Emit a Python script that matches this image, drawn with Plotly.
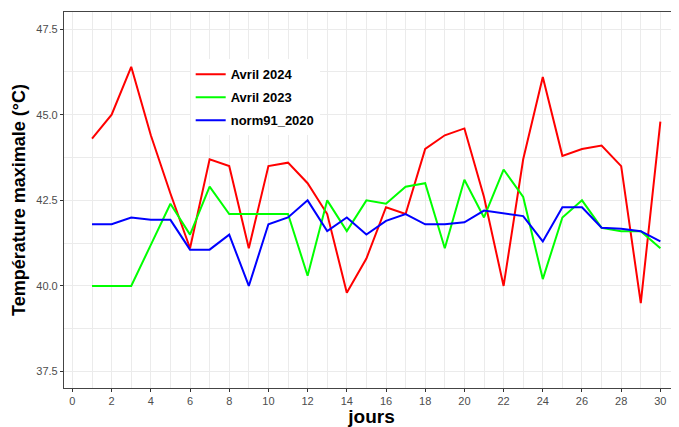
import plotly.graph_objects as go

jours = list(range(1, 31))
avril_2024 = [44.3, 45.0, 46.4, 44.4, 42.7, 41.1, 43.7, 43.5, 41.1, 43.5,
              43.6, 43.0, 42.1, 39.8, 40.8, 42.3, 42.1, 44.0, 44.4, 44.6,
              42.6, 40.0, 43.7, 46.1, 43.8, 44.0, 44.1, 43.5, 39.5, 44.8]
avril_2023 = [40.0, 40.0, 40.0, 41.2, 42.4, 41.5, 42.9, 42.1, 42.1, 42.1,
              42.1, 40.3, 42.5, 41.6, 42.5, 42.4, 42.9, 43.0, 41.1, 43.1,
              42.0, 43.4, 42.6, 40.2, 42.0, 42.5, 41.7, 41.6, 41.6, 41.1]
norm91_2020 = [41.8, 41.8, 42.0, 41.93, 41.93, 41.06, 41.06, 41.5, 40.0, 41.8,
               42.0, 42.5, 41.6, 42.0, 41.5, 41.9, 42.1, 41.8, 41.8, 41.86,
               42.2, 42.13, 42.04, 41.3, 42.3, 42.3, 41.7, 41.67, 41.6, 41.3]

series = [("Avril 2024", avril_2024, "#ff0000"),
          ("Avril 2023", avril_2023, "#00ff00"),
          ("norm91_2020", norm91_2020, "#0000ff")]

x_ticks = list(range(0, 31, 2))
y_ticks = [37.5, 40.0, 42.5, 45.0, 47.5]

fig = go.Figure()
for name, vals, col in series:
    fig.add_trace(go.Scatter(x=jours, y=vals, mode="lines", name=name, legendgroup=name,
                             line=dict(color=col, width=2)))

grid = "#ebebeb"
# the page body has an 8px margin, so the figure is 8px smaller and margins shifted
fig.update_layout(
    width=671, height=419,
    margin=dict(l=56, r=0, t=4, b=39, autoexpand=False),
    paper_bgcolor="white", plot_bgcolor="white",
    font=dict(family="Liberation Sans, Arial, sans-serif", color="#4d4d4d"),
    legend=dict(x=0.206, y=0.874, xanchor="left", yanchor="top",
                bgcolor="white", borderwidth=0, traceorder="grouped",
                font=dict(size=13, color="black", family="Liberation Sans, Arial, sans-serif", weight="bold"),
                itemwidth=30, tracegroupgap=3),
    xaxis=dict(range=[-0.43, 30.95], tickvals=x_ticks, ticks="outside", ticklen=3,
               tickcolor="#333333", showline=True, linecolor="#444444", linewidth=1.2,
               mirror=True, showgrid=True, gridcolor=grid, gridwidth=1, zeroline=False,
               automargin=False,
               tickfont=dict(size=11, color="#4d4d4d"),
               minor=dict(dtick=1, tick0=1, showgrid=True, gridcolor=grid, gridwidth=0.7),
               title=dict(text="<b>jours</b>", font=dict(size=19, color="black"), standoff=0)),
    yaxis=dict(range=[37.02, 48.0], tickvals=y_ticks, tickformat=".1f", ticks="outside",
               ticklen=3, tickcolor="#333333", showline=True, linecolor="#444444",
               linewidth=1.2, showgrid=True, gridcolor=grid, gridwidth=1, zeroline=False,
               automargin=False,
               tickfont=dict(size=11, color="#4d4d4d"),
               minor=dict(dtick=1.25, tick0=36.25, showgrid=True, gridcolor=grid, gridwidth=0.7),
               title=dict(text="<b>Température maximale (°C)</b>", font=dict(size=18, color="black"), standoff=5)),
)

fig.write_html("out.html")
